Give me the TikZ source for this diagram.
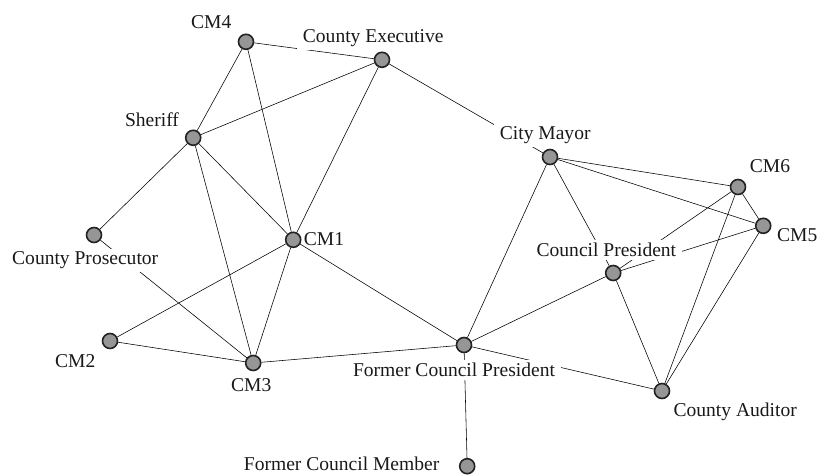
\documentclass[tikz,border=0pt]{standalone}
\usepackage{fontspec}
\setmainfont{Liberation Serif}
\usetikzlibrary{backgrounds}
\definecolor{actorgray}{RGB}{150,150,150}
\definecolor{tiegray}{RGB}{35,35,35}

\begin{document}
\begin{tikzpicture}[line width=1.15pt,
    actor/.style={draw=tiegray, fill=actorgray, circle, minimum size=0.375cm, inner sep=0pt},
    nametag/.style={fill=white, anchor=base, inner xsep=0.15cm, inner ysep=0.075cm,
        font=\fontsize{13.9}{16}\selectfont, text=black!90}]
    \useasboundingbox (0,0) rectangle (20.45,11.875);

    % Labels - white boxes hide the ties that run under them
    \node[nametag] (tCM4) at (5.28, 11.15) {CM4};
    \node[nametag] (tExec) at (9.33, 10.8) {County Executive};
    \node[nametag] (tSheriff) at (3.8, 8.7) {Sheriff};
    \node[nametag] (tMayor) at (13.63, 8.38) {City Mayor};
    \node[nametag] (tCM6) at (19.25, 7.55) {CM6};
    \node[nametag] (tCM5) at (19.93, 5.83) {CM5};
    \node[nametag] (tPres) at (15.16, 5.45) {Council President};
    \node[nametag] (tPros) at (2.13, 5.25) {County Prosecutor};
    \node[nametag, fill=none] (tCM1) at (8.1, 5.73) {CM1};
    \node[nametag] (tCM2) at (1.88, 2.68) {CM2};
    \node[nametag] (tCM3) at (6.28, 2.08) {CM3};
    \node[nametag] (tFormPres) at (11.35, 2.45) {Former Council President};
    \node[nametag] (tAud) at (18.38, 1.45) {County Auditor};
    \node[nametag, fill=none, inner sep=0pt] (tFormCM) at (8.54, 0.12) {Former Council Member};

    % Actors
    \node[actor] (CM4) at (6.15, 10.83) {};
    \node[actor] (Exec) at (9.55, 10.38) {};
    \node[actor] (Sheriff) at (4.83, 8.43) {};
    \node[actor] (Mayor) at (13.75, 7.95) {};
    \node[actor] (CM6) at (18.45, 7.2) {};
    \node[actor] (CM5) at (19.08, 6.23) {};
    \node[actor] (Pros) at (2.35, 6.0) {};
    \node[actor] (CM1) at (7.33, 5.88) {};
    \node[actor] (Pres) at (15.33, 5.05) {};
    \node[actor] (CM2) at (2.75, 3.35) {};
    \node[actor] (CM3) at (6.33, 2.8) {};
    \node[actor] (FormPres) at (11.6, 3.25) {};
    \node[actor] (Aud) at (16.55, 2.1) {};
    \node[actor] (FormCM) at (11.68, 0.22) {};

    % Ties - left group
    \begin{scope}[on background layer, draw=tiegray]
    \draw (CM4) -- (Exec);
    \draw (CM4) -- (Sheriff);
    \draw (CM4) -- (CM1);
    \draw (Sheriff) -- (Exec);
    \draw (Sheriff) -- (Pros);
    \draw (Sheriff) -- (CM1);
    \draw (Sheriff) -- (CM3);
    \draw (Exec) -- (CM1);
    \draw (Pros) -- (CM3);
    \draw (CM1) -- (CM2);
    \draw (CM1) -- (CM3);
    \draw (CM2) -- (CM3);

    % Ties - bridging
    \draw (Exec) -- (Mayor);
    \draw (CM1) -- (FormPres);
    \draw (CM3) -- (FormPres);
    \draw (FormPres) -- (FormCM);

    % Ties - right group
    \draw (Mayor) -- (CM6);
    \draw (Mayor) -- (CM5);
    \draw (Mayor) -- (Pres);
    \draw (Mayor) -- (FormPres);
    \draw (CM6) -- (CM5);
    \draw (CM6) -- (Pres);
    \draw (CM6) -- (Aud);
    \draw (CM5) -- (Pres);
    \draw (CM5) -- (Aud);
    \draw (Pres) -- (FormPres);
    \draw (Pres) -- (Aud);
    \draw (FormPres) -- (Aud);
    \end{scope}
\end{tikzpicture}
\end{document}
